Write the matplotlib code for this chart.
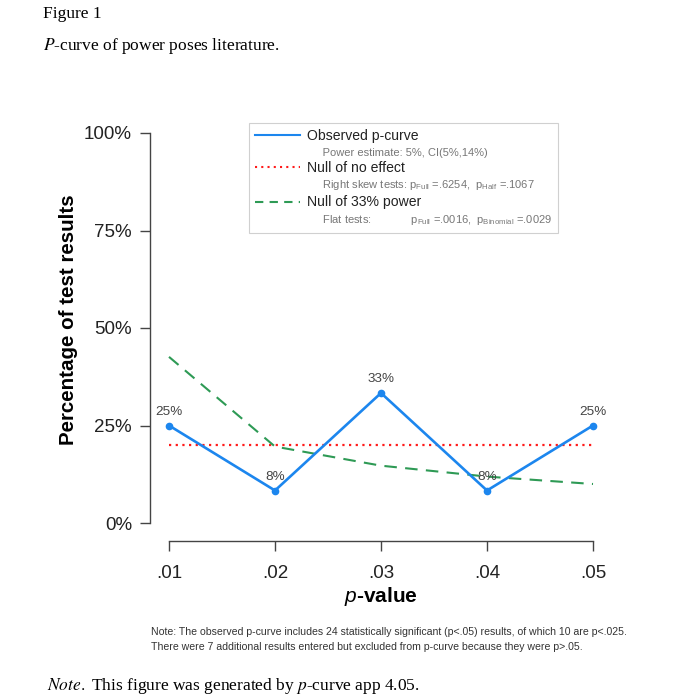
import matplotlib

matplotlib.use("Agg")
import matplotlib.pyplot as plt
from matplotlib.lines import Line2D

plt.rcParams["font.family"] = ["Liberation Sans", "DejaVu Sans"]
plt.rcParams["mathtext.fontset"] = "custom"
plt.rcParams["mathtext.rm"] = "Liberation Sans"
plt.rcParams["mathtext.it"] = "Liberation Sans:italic"
plt.rcParams["mathtext.bf"] = "Liberation Sans:bold"
plt.rcParams["mathtext.default"] = "regular"

# data
p_values = [0.01, 0.02, 0.03, 0.04, 0.05]
x_labels = [".01", ".02", ".03", ".04", ".05"]
observed = [25.0, 8.33, 33.33, 8.33, 25.0]
obs_labels = ["25%", "8%", "33%", "8%", "25%"]
null_no_effect = [20, 20, 20, 20, 20]
null_33_power = [42.6, 19.6, 14.7, 11.9, 10.0]
y_ticks = [0, 25, 50, 75, 100]
y_labels = ["0%", "25%", "50%", "75%", "100%"]

BLUE = "#1C86EE"
RED = "#FF1A1A"
GREEN = "#2E9A55"
AXIS = "#444444"

W, H = 685, 695
fig = plt.figure(figsize=(W / 100, H / 100), dpi=100)


def px(x0, y0, x1, y1):
    # pixel box (top-left origin) -> figure fraction rect
    return [x0 / W, 1 - y1 / H, (x1 - x0) / W, (y1 - y0) / H]


ax = fig.add_axes(px(150, 116, 612, 541))
ax.set_xlim(0.01 - 0.04 * 19 / 424, 0.05 + 0.04 * 19 / 424)
ax.set_ylim(-18 / 3.9, 100 + 17 / 3.9)

ax.plot(p_values, null_no_effect, color=RED, linestyle=(0, (1, 2)), linewidth=1.6)
ax.plot(p_values, null_33_power, color=GREEN, linestyle=(0, (6, 4)), linewidth=1.5)
ax.plot(p_values, observed, color=BLUE, linewidth=1.9, marker="o", markersize=4.5)
for xv, yv, lab in zip(p_values, observed, obs_labels):
    ax.annotate(lab, (xv, yv), xytext=(0, 10), textcoords="offset points",
                ha="center", va="center", fontsize=9.7, color="#444444")

for side in ("top", "right"):
    ax.spines[side].set_visible(False)
ax.spines["left"].set_bounds(0, 100)
ax.spines["bottom"].set_bounds(0.01, 0.05)
for side in ("left", "bottom"):
    ax.spines[side].set_color(AXIS)
    ax.spines[side].set_linewidth(1.0)

ax.set_xticks(p_values)
ax.set_xticklabels(x_labels)
ax.set_yticks(y_ticks)
ax.set_yticklabels(y_labels)
ax.tick_params(axis="y", direction="out", length=7, width=1, color=AXIS,
               labelsize=13.5, pad=6, labelcolor="#222222")
ax.tick_params(axis="x", direction="out", length=7, width=1, color=AXIS,
               labelsize=13.5, pad=10, labelcolor="#222222")
ax.patch.set_visible(False)

fig.text(68 / W, 1 - 320 / H, "Percentage of test results", rotation=90,
         ha="center", va="center", fontsize=14.8, fontweight="bold")
fig.text(381 / W, 1 - 596 / H, r"$\mathbf{\mathit{p}}$-value", ha="center",
         va="center", fontsize=15, fontweight="bold")

# legend
handles = [
    Line2D([], [], color=BLUE, linewidth=1.5),
    Line2D([], [], linestyle="none"),
    Line2D([], [], color=RED, linestyle=(0, (1, 2)), linewidth=1.5),
    Line2D([], [], linestyle="none"),
    Line2D([], [], color=GREEN, linestyle=(0, (4, 3)), linewidth=1.5),
    Line2D([], [], linestyle="none"),
]
labels = [
    "Observed p-curve",
    "     Power estimate: 5%, CI(5%,14%)",
    "Null of no effect",
    r"     Right skew tests: p$_{Full}$ =.6254,  p$_{Half}$ =.1067",
    "Null of 33% power",
    r"     Flat tests:             p$_{Full}$ =.0016,  p$_{Binomial}$ =.0029",
]
leg = fig.legend(handles, labels, loc="upper left",
                 bbox_to_anchor=(249 / W, 1 - 123 / H),
                 bbox_transform=fig.transFigure, borderaxespad=0,
                 fontsize=10.1, handlelength=3.2, handletextpad=0.45,
                 labelspacing=0.22, borderpad=0.45, frameon=True,
                 fancybox=False, framealpha=1)
leg.get_frame().set_edgecolor("#d0d0d0")
leg.get_frame().set_linewidth(0.8)
for i, t in enumerate(leg.get_texts()):
    if i % 2 == 1:
        t.set_fontsize(8)
        t.set_color("#777777")
    else:
        t.set_color("#222222")

# notes below the plot
fig.text(151 / W, 1 - 632 / H,
         "Note: The observed p-curve includes 24 statistically significant (p<.05) results, of which 10 are p<.025.",
         ha="left", va="center", fontsize=7.6, color="#333333")
fig.text(151 / W, 1 - 647 / H,
         "There were 7 additional results entered but excluded from p-curve because they were p>.05.",
         ha="left", va="center", fontsize=7.6, color="#333333")

# document caption text
serif = ["Liberation Serif", "DejaVu Serif"]
fig.text(43 / W, 1 - 14 / H, "Figure 1", family=serif, fontsize=12.5,
         ha="left", va="center")
fig.text(43 / W, 1 - 46 / H, r"$\mathit{P}$-curve of power poses literature.",
         family=serif, fontsize=12.5, ha="left", va="center",
         math_fontfamily="stix")
fig.text(47 / W, 1 - 686 / H,
         r"$\mathit{Note.}$ This figure was generated by $\mathit{p}$-curve app 4.05.",
         family=serif, fontsize=12.5, ha="left", va="center",
         math_fontfamily="stix")

fig.savefig("out.png", dpi=100, facecolor="white")
